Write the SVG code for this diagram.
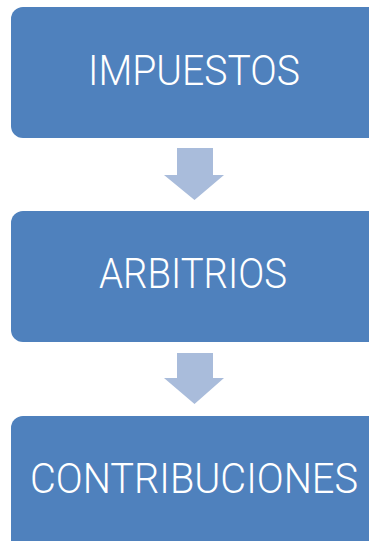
<svg xmlns="http://www.w3.org/2000/svg" width="370" height="541" viewBox="0 0 370 541">
<style>
.box{fill:#4F81BD;}
.lbl{fill:#FFFFFF;font-family:Roboto,"Liberation Sans",sans-serif;font-weight:300;font-size:43px;text-anchor:middle;}
.arr{fill:#A9BCDB;}
</style>
<rect width="370" height="541" fill="#FFFFFF"/>
<g id="connectors">
<polygon class="arr" points="177,148 213,148 213,175 224,175 194.5,200 164,175 177,175"/>
<polygon class="arr" points="177,353 213,353 213,378 224,378 194.5,404 164,378 177,378"/>
</g>
<g id="impuestos">
<path class="box" d="M23,7 H369 V138 H23 A12,12 0 0 1 11,126 V19 A12,12 0 0 1 23,7 Z"/>
<text class="lbl" x="194" y="85" textLength="212" lengthAdjust="spacingAndGlyphs">IMPUESTOS</text>
</g>
<g id="arbitrios">
<path class="box" d="M23,211 H369 V342 H23 A12,12 0 0 1 11,330 V223 A12,12 0 0 1 23,211 Z"/>
<text class="lbl" x="193" y="288" textLength="188" lengthAdjust="spacingAndGlyphs">ARBITRIOS</text>
</g>
<g id="contribuciones">
<path class="box" d="M23,416 H369 V541 H11 V428 A12,12 0 0 1 23,416 Z"/>
<text class="lbl" transform="translate(194,493) scale(0.92,1)" x="0" y="0" textLength="356.5" lengthAdjust="spacingAndGlyphs">CONTRIBUCIONES</text>
</g>
</svg>
